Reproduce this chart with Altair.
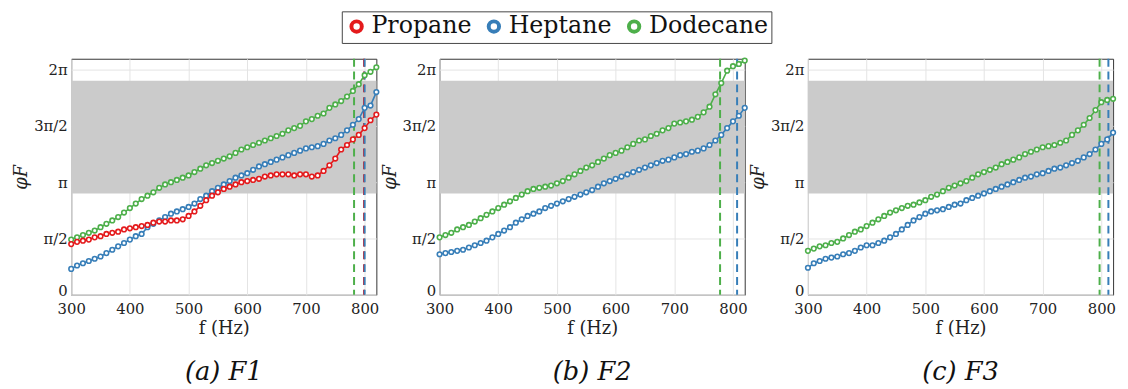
import altair as alt
import pandas as pd

# ---------------- data (phase in units of pi) ----------------
freq = list(range(300, 830, 10))

f1_propane = [0.45, 0.47, 0.48, 0.49, 0.51, 0.52, 0.54, 0.55, 0.56, 0.58,
              0.59, 0.60, 0.61, 0.62, 0.64, 0.65, 0.65, 0.66, 0.66, 0.67,
              0.70, 0.74, 0.79, 0.84, 0.88, 0.91, 0.94, 0.96, 0.98, 1.00,
              1.01, 1.02, 1.03, 1.05, 1.06, 1.07, 1.07, 1.07, 1.06, 1.07,
              1.07, 1.05, 1.06, 1.10, 1.15, 1.21, 1.29, 1.33, 1.38, 1.42,
              1.48, 1.55, 1.60]
f1_heptane = [0.23, 0.26, 0.28, 0.30, 0.32, 0.34, 0.37, 0.40, 0.43, 0.46,
              0.49, 0.52, 0.54, 0.60, 0.63, 0.66, 0.69, 0.72, 0.74, 0.76,
              0.78, 0.81, 0.85, 0.88, 0.92, 0.95, 0.98, 1.01, 1.04, 1.06,
              1.08, 1.11, 1.14, 1.16, 1.18, 1.20, 1.22, 1.24, 1.26, 1.28,
              1.30, 1.31, 1.32, 1.34, 1.37, 1.39, 1.42, 1.46, 1.51, 1.56,
              1.66, 1.68, 1.80]
f1_dodecane = [0.49, 0.51, 0.53, 0.55, 0.57, 0.60, 0.63, 0.66, 0.69, 0.73,
               0.77, 0.81, 0.85, 0.88, 0.91, 0.95, 0.98, 1.00, 1.02, 1.04,
               1.06, 1.09, 1.12, 1.15, 1.17, 1.19, 1.21, 1.23, 1.26, 1.29,
               1.31, 1.33, 1.35, 1.37, 1.39, 1.41, 1.43, 1.46, 1.48, 1.50,
               1.54, 1.56, 1.59, 1.61, 1.66, 1.69, 1.72, 1.76, 1.81, 1.87,
               1.95, 1.98, 2.02]

f2_heptane = [0.36, 0.37, 0.38, 0.39, 0.40, 0.42, 0.44, 0.46, 0.48, 0.51,
              0.54, 0.57, 0.60, 0.64, 0.67, 0.70, 0.72, 0.74, 0.77, 0.79,
              0.81, 0.83, 0.85, 0.87, 0.89, 0.91, 0.93, 0.96, 0.99, 1.01,
              1.03, 1.05, 1.07, 1.09, 1.11, 1.13, 1.15, 1.17, 1.19, 1.20,
              1.22, 1.24, 1.25, 1.27, 1.28, 1.30, 1.33, 1.37, 1.42, 1.48,
              1.54, 1.59, 1.66]
f2_dodecane = [0.51, 0.53, 0.55, 0.58, 0.60, 0.62, 0.65, 0.68, 0.71, 0.74,
               0.77, 0.80, 0.83, 0.86, 0.89, 0.92, 0.94, 0.95, 0.96, 0.97,
               0.99, 1.01, 1.04, 1.07, 1.10, 1.13, 1.15, 1.18, 1.21, 1.24,
               1.26, 1.28, 1.31, 1.34, 1.37, 1.38, 1.41, 1.43, 1.46, 1.48,
               1.52, 1.53, 1.54, 1.555, 1.58, 1.62, 1.67, 1.78, 1.88, 1.99,
               2.03, 2.05, 2.08]

f3_heptane = [0.24, 0.28, 0.30, 0.32, 0.33, 0.34, 0.36, 0.37, 0.39, 0.42,
              0.44, 0.44, 0.46, 0.48, 0.51, 0.54, 0.58, 0.62, 0.66, 0.69,
              0.72, 0.74, 0.75, 0.76, 0.78, 0.80, 0.81, 0.84, 0.86, 0.88,
              0.90, 0.92, 0.94, 0.96, 0.98, 1.00, 1.02, 1.04, 1.05, 1.07,
              1.08, 1.10, 1.12, 1.13, 1.15, 1.17, 1.19, 1.22, 1.25, 1.29,
              1.34, 1.38, 1.44]
f3_dodecane = [0.39, 0.41, 0.43, 0.44, 0.46, 0.47, 0.50, 0.53, 0.56, 0.58,
               0.61, 0.64, 0.67, 0.70, 0.73, 0.75, 0.77, 0.79, 0.80, 0.82,
               0.84, 0.87, 0.89, 0.92, 0.95, 0.97, 0.99, 1.01, 1.04, 1.07,
               1.09, 1.11, 1.13, 1.16, 1.18, 1.20, 1.22, 1.25, 1.27, 1.29,
               1.31, 1.32, 1.33, 1.35, 1.37, 1.42, 1.46, 1.51, 1.57, 1.64,
               1.71, 1.73, 1.74]

fuels = ["Propane", "Heptane", "Dodecane"]
fuel_colors = ["#e41a1c", "#377eb8", "#4daf4a"]

# cut-off frequencies (dashed lines)
f1_cut_fuel = ["Dodecane", "Propane", "Heptane"]
f1_cut_freq = [782, 799, 800]
f2_cut_fuel = ["Dodecane", "Heptane"]
f2_cut_freq = [778, 807]
f3_cut_fuel = ["Dodecane", "Heptane"]
f3_cut_freq = [797, 812]

band_low = [0.9]
band_high = [1.9]
x_domain = [300, 820]
y_domain = [0, 2.096]
x_ticks = [300, 400, 500, 600, 700, 800]
y_ticks = [0, 0.5, 1, 1.5, 2]
y_tick_labels = ["0", "π/2", "π", "3π/2", "2π"]
captions = ["(a) F1", "(b) F2", "(c) F3"]

SERIF = "DejaVu Serif"
label_expr = "".join(
    f"datum.value == {v} ? '{t}' : " for v, t in zip(y_ticks, y_tick_labels)
) + "''"

color_scale = alt.Scale(domain=fuels, range=fuel_colors)
hex_of = dict(zip(fuels, fuel_colors))


def panel(series, cut_fuel, cut_freq, caption, first):
    xs = alt.Scale(domain=x_domain, nice=False, zero=False)
    ys = alt.Scale(domain=y_domain, nice=False, zero=False)
    xaxis = alt.Axis(values=x_ticks, title="f (Hz)", labelPadding=7,
                     titlePadding=3, grid=True, format="d", labelFlush=False)
    yaxis = alt.Axis(values=y_ticks, labelExpr=label_expr, title="φF",
                     titleFontStyle="italic", titlePadding=3, labelPadding=4,
                     grid=True, labelFlush=False,
                     labelOffset={"condition": {"test": "datum.value == 0",
                                                "value": -4},
                                  "value": 0})

    band_df = pd.DataFrame({"x": [x_domain[0]], "x2": [x_domain[1]],
                            "y": band_low, "y2": band_high})
    band = alt.Chart(band_df).mark_rect(color="#cbcbcb").encode(
        x=alt.X("x:Q", scale=xs, axis=xaxis),
        x2="x2:Q",
        y=alt.Y("y:Q", scale=ys, axis=yaxis),
        y2="y2:Q",
    )

    rule_df = pd.DataFrame({"f": cut_freq, "fuel": cut_fuel,
                            "hex": [hex_of[c] for c in cut_fuel]})
    rules = alt.Chart(rule_df).mark_rule(strokeWidth=2, strokeDash=[8, 5]).encode(
        x=alt.X("f:Q", scale=xs),
        color=alt.Color("hex:N", scale=None),
    )

    rows = []
    for fuel, vals in series:
        for f, v in zip(freq, vals):
            rows.append({"f": f, "phi": v, "fuel": fuel})
    df = pd.DataFrame(rows)
    legend = alt.Legend(
        title=None, orient="none", direction="horizontal", columns=3,
        legendX=274, legendY=-48, symbolType="circle", symbolSize=110,
        symbolStrokeWidth=4, symbolFillColor="white", labelFont=SERIF,
        labelFontSize=24, labelColor="#111", labelOffset=3, columnPadding=8,
        strokeColor="#444", padding=3, fillColor="white",
    ) if first else None
    lines = alt.Chart(df).mark_line(
        strokeWidth=1.6,
        point=alt.OverlayMarkDef(shape="circle", filled=False, fill="white",
                                 size=22, strokeWidth=1.6),
    ).encode(
        x=alt.X("f:Q", scale=xs),
        y=alt.Y("phi:Q", scale=ys),
        color=alt.Color("fuel:N", scale=color_scale, legend=legend),
        order=alt.Order("f:Q"),
    )

    return alt.layer(band, rules, lines).properties(
        width=309, height=239,
        title=alt.TitleParams(caption, orient="bottom", font=SERIF,
                              fontSize=26, fontStyle="italic",
                              fontWeight="normal", offset=22, color="#111"),
    )


p1 = panel([("Heptane", f1_heptane), ("Dodecane", f1_dodecane),
            ("Propane", f1_propane)], f1_cut_fuel, f1_cut_freq, captions[0], True)
p2 = panel([("Heptane", f2_heptane), ("Dodecane", f2_dodecane)],
           f2_cut_fuel, f2_cut_freq, captions[1], False)
p3 = panel([("Heptane", f3_heptane), ("Dodecane", f3_dodecane)],
           f3_cut_fuel, f3_cut_freq, captions[2], False)

chart = alt.hconcat(p1, p2, p3, spacing=64, bounds="flush").properties(
    padding={"left": 4, "top": 0, "right": 0, "bottom": 0}
).configure(font=SERIF).configure_axis(
    labelFont=SERIF, labelFontSize=15, labelColor="#222",
    titleFont=SERIF, titleFontSize=18, titleFontWeight="normal",
    titleColor="#222", gridColor="#e4e4e4", gridWidth=1,
    domain=False, ticks=False,
).configure_view(stroke="#333", strokeWidth=1).configure_title(anchor="middle")

chart.save("out.html", embed_options={"renderer": "svg", "actions": False})
